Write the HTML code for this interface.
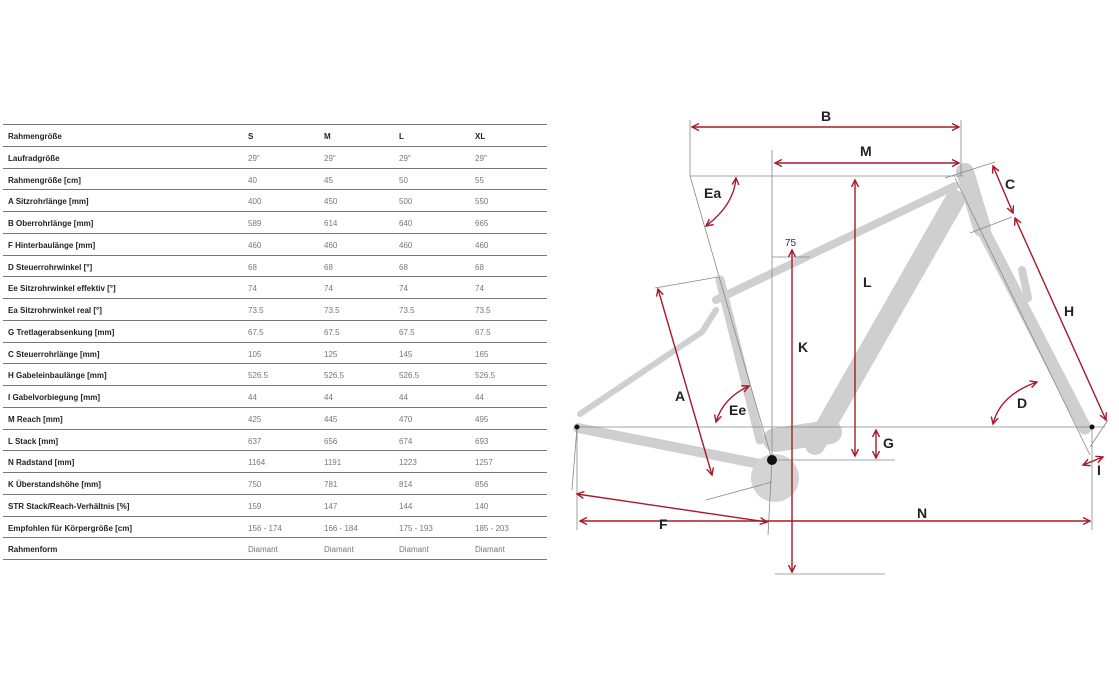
<!DOCTYPE html>
<html><head><meta charset="utf-8"><style>
body{margin:0;width:1119px;height:689px;background:#fff;position:relative;overflow:hidden;font-family:"Liberation Sans",sans-serif}
.r{position:absolute;left:3px;width:544px;height:21.75px;border-bottom:1.5px solid #777;font-size:8px;color:#777;box-sizing:border-box}
.r span{position:absolute;top:7px}
.r .l{left:5px;font-weight:bold;color:#222}
.a{left:245px}.b{left:321px}.c{left:396px}.d{left:472px}
.h span{font-weight:bold;color:#222}
</style></head><body>
<div style="position:absolute;left:3px;top:124px;width:544px;border-top:1.5px solid #777"></div>
<div class="r h" style="top:125px"><span class="l">Rahmengröße</span><span class="a">S</span><span class="b">M</span><span class="c">L</span><span class="d">XL</span></div>
<div class="r" style="top:146.75px"><span class="l">Laufradgröße</span><span class="a">29"</span><span class="b">29"</span><span class="c">29"</span><span class="d">29"</span></div>
<div class="r" style="top:168.5px"><span class="l">Rahmengröße [cm]</span><span class="a">40</span><span class="b">45</span><span class="c">50</span><span class="d">55</span></div>
<div class="r" style="top:190.25px"><span class="l">A Sitzrohrlänge [mm]</span><span class="a">400</span><span class="b">450</span><span class="c">500</span><span class="d">550</span></div>
<div class="r" style="top:212px"><span class="l">B Oberrohrlänge [mm]</span><span class="a">589</span><span class="b">614</span><span class="c">640</span><span class="d">665</span></div>
<div class="r" style="top:233.75px"><span class="l">F Hinterbaulänge [mm]</span><span class="a">460</span><span class="b">460</span><span class="c">460</span><span class="d">460</span></div>
<div class="r" style="top:255.5px"><span class="l">D Steuerrohrwinkel [°]</span><span class="a">68</span><span class="b">68</span><span class="c">68</span><span class="d">68</span></div>
<div class="r" style="top:277.25px"><span class="l">Ee Sitzrohrwinkel effektiv [°]</span><span class="a">74</span><span class="b">74</span><span class="c">74</span><span class="d">74</span></div>
<div class="r" style="top:299px"><span class="l">Ea Sitzrohrwinkel real [°]</span><span class="a">73.5</span><span class="b">73.5</span><span class="c">73.5</span><span class="d">73.5</span></div>
<div class="r" style="top:320.75px"><span class="l">G Tretlagerabsenkung [mm]</span><span class="a">67.5</span><span class="b">67.5</span><span class="c">67.5</span><span class="d">67.5</span></div>
<div class="r" style="top:342.5px"><span class="l">C Steuerrohrlänge [mm]</span><span class="a">105</span><span class="b">125</span><span class="c">145</span><span class="d">165</span></div>
<div class="r" style="top:364.25px"><span class="l">H Gabeleinbaulänge [mm]</span><span class="a">526.5</span><span class="b">526.5</span><span class="c">526.5</span><span class="d">526.5</span></div>
<div class="r" style="top:386px"><span class="l">I Gabelvorbiegung [mm]</span><span class="a">44</span><span class="b">44</span><span class="c">44</span><span class="d">44</span></div>
<div class="r" style="top:407.75px"><span class="l">M Reach [mm]</span><span class="a">425</span><span class="b">445</span><span class="c">470</span><span class="d">495</span></div>
<div class="r" style="top:429.5px"><span class="l">L Stack [mm]</span><span class="a">637</span><span class="b">656</span><span class="c">674</span><span class="d">693</span></div>
<div class="r" style="top:451.25px"><span class="l">N Radstand [mm]</span><span class="a">1164</span><span class="b">1191</span><span class="c">1223</span><span class="d">1257</span></div>
<div class="r" style="top:473px"><span class="l">K Überstandshöhe [mm]</span><span class="a">750</span><span class="b">781</span><span class="c">814</span><span class="d">856</span></div>
<div class="r" style="top:494.75px"><span class="l">STR Stack/Reach-Verhältnis [%]</span><span class="a">159</span><span class="b">147</span><span class="c">144</span><span class="d">140</span></div>
<div class="r" style="top:516.5px"><span class="l">Empfohlen für Körpergröße [cm]</span><span class="a">156 - 174</span><span class="b">166 - 184</span><span class="c">175 - 193</span><span class="d">185 - 203</span></div>
<div class="r" style="top:538.25px"><span class="l">Rahmenform</span><span class="a">Diamant</span><span class="b">Diamant</span><span class="c">Diamant</span><span class="d">Diamant</span></div>

<svg style="position:absolute;left:0;top:0" width="1119" height="689" viewBox="0 0 1119 689">
<defs><marker id="m" markerWidth="6" markerHeight="6" refX="5" refY="3" orient="auto-start-reverse"><path d="M0,0.5 L5,3 L0,5.5" fill="none" stroke="#a51a2a" stroke-width="1"/></marker></defs>
<g stroke="#cfcfcf" stroke-linecap="round" fill="none">
<path d="M578,428 L765,465" stroke-width="10"/>
<path d="M580,414 L702,332 L716,310" stroke-width="6"/>
<path d="M716,300 L955,186" stroke-width="8"/>
<path d="M720,280 L760,440" stroke-width="9"/>
<path d="M955,200 L815,445" stroke-width="20"/>
<path d="M965,172 L982,228" stroke-width="18"/>
<path d="M982,228 L1085,428" stroke-width="13"/>
<path d="M1022,270 L1028,298" stroke-width="8"/>
<path d="M775,440 L830,432" stroke-width="24"/>
</g>
<circle cx="775" cy="478" r="24" fill="#d4d4d4"/>
<g stroke="#888" stroke-width="0.8" fill="none">
<line x1="690" y1="176" x2="963" y2="176"/>
<line x1="690" y1="120" x2="690" y2="176"/>
<line x1="961" y1="120" x2="961" y2="176"/>
<line x1="772" y1="150" x2="772" y2="460"/>
<line x1="690" y1="176" x2="772" y2="460"/>
<line x1="577" y1="427" x2="1105" y2="427"/>
<line x1="772" y1="460" x2="895" y2="460"/>
<line x1="772" y1="257" x2="810" y2="257"/>
<line x1="577" y1="427" x2="572" y2="490"/>
<line x1="1092" y1="427" x2="1092" y2="530"/>
<line x1="577" y1="430" x2="577" y2="530"/>
<line x1="772" y1="460" x2="768" y2="535"/>
<line x1="775" y1="574" x2="885" y2="574"/>
<line x1="955" y1="178" x2="1090" y2="455"/>
<line x1="945" y1="178" x2="995" y2="162"/>
<line x1="970" y1="233" x2="1012" y2="217"/>
<line x1="1090" y1="447" x2="1108" y2="420"/>
<line x1="655" y1="288" x2="718" y2="277"/>
<line x1="706" y1="500" x2="772" y2="482"/>
</g>
<g stroke="#a51a2a" stroke-width="1.4" fill="none" marker-start="url(#m)" marker-end="url(#m)">
<line x1="692" y1="127" x2="959" y2="127"/>
<line x1="775" y1="163" x2="959" y2="163"/>
<line x1="855" y1="180" x2="855" y2="456"/>
<line x1="792" y1="250" x2="792" y2="572"/>
<line x1="658" y1="289" x2="712" y2="475"/>
<line x1="577" y1="494" x2="767" y2="522"/>
<line x1="580" y1="521" x2="1090" y2="521"/>
<line x1="876" y1="430" x2="876" y2="458"/>
<line x1="993" y1="166" x2="1013" y2="213"/>
<line x1="1015" y1="218" x2="1106" y2="420"/>
<line x1="1083" y1="465" x2="1103" y2="457"/>
<path d="M736,178 Q734,205 706,226"/>
<path d="M749,386 Q723,398 716,422"/>
<path d="M1037,382 Q1000,395 993,424"/>
</g>
<g fill="#222" font-family="Liberation Sans,sans-serif" font-weight="bold" font-size="14">
<text x="821" y="121">B</text><text x="860" y="156">M</text><text x="1005" y="189">C</text>
<text x="704" y="198">Ea</text><text x="863" y="287">L</text><text x="1064" y="316">H</text>
<text x="798" y="352">K</text><text x="675" y="401">A</text><text x="729" y="415">Ee</text>
<text x="1017" y="408">D</text><text x="883" y="448">G</text><text x="1097" y="475">I</text>
<text x="659" y="529">F</text><text x="917" y="518">N</text>
</g>
<text x="785" y="246" font-size="10" fill="#333" font-family="Liberation Sans,sans-serif">75</text>
<circle cx="772" cy="460" r="5" fill="#111"/><circle cx="577" cy="427" r="2.5" fill="#111"/><circle cx="1092" cy="427" r="2.5" fill="#111"/>
</svg>
</body></html>
